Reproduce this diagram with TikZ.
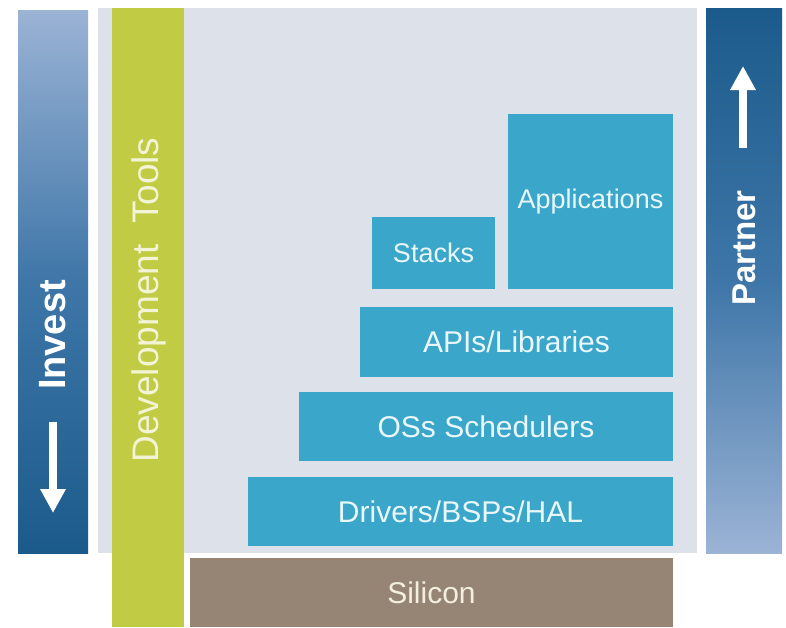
\documentclass[tikz,border=0pt]{standalone}
\usepackage{fontspec}
\setmainfont{Liberation Sans}
\usetikzlibrary{arrows.meta}
\definecolor{panelgray}{HTML}{DDE2EA}
\definecolor{boxblue}{HTML}{3AA6C9}
\definecolor{boxtext}{HTML}{E9F7FB}
\definecolor{devgreen}{HTML}{C1CB44}
\definecolor{devtext}{HTML}{F3F3D6}
\definecolor{silbrown}{HTML}{968574}
\definecolor{siltext}{HTML}{F4EEDF}
\definecolor{barlight}{HTML}{9BB3D5}
\definecolor{barmid}{HTML}{3E76A8}
\definecolor{bardark}{HTML}{1B5B8B}
\tikzset{
  stackbox/.style={fill=boxblue, text=boxtext, inner sep=0pt, font=\fontsize{30}{32}\selectfont},
  smallbox/.style={stackbox, font=\fontsize{27}{29}\selectfont},
  bigarrow/.style={draw=white, line width=8pt, -{Triangle[width=24pt,length=24pt]}},
  bartext/.style={text=white, rotate=90, inner sep=0pt}
}
\begin{document}
\begin{tikzpicture}[x=1pt,y=-1pt]
\useasboundingbox (0,0) rectangle (786,627);
\fill[white] (0,0) rectangle (786,627);
% panel
\node[fill=panelgray, minimum width=599pt, minimum height=545pt, inner sep=0pt] (panel) at (397.5,280.5) {};
% invest bar
\shade[top color=barlight, bottom color=bardark, middle color=barmid] (18,10) rectangle (88,553);
\node[bartext, font=\bfseries\fontsize{38}{40}\selectfont] (invest) at (53,335) {Invest};
\coordinate (ia) at (53,422);
\coordinate (ib) at (53,513);
\draw[bigarrow] (ia) -- (ib);
% partner bar
\shade[top color=bardark, bottom color=barlight, middle color=barmid] (706,8) rectangle (782,553);
\node[bartext, font=\bfseries\fontsize{33}{35}\selectfont] (partner) at (744,248) {Partner};
\coordinate (pa) at (743,148);
\coordinate (pb) at (743,66);
\draw[bigarrow] (pa) -- (pb);
% dev tools
\node[fill=devgreen, minimum width=72pt, minimum height=619pt, inner sep=0pt] (dev) at (148,317.5) {};
\node[text=devtext, rotate=90, inner sep=0pt, font=\fontsize{37}{39}\selectfont] (devt) at (149,300) {Development\ \ Tools};
% stack
\node[fill=silbrown, text=siltext, inner sep=0pt, minimum width=483pt, minimum height=69pt, font=\fontsize{30}{32}\selectfont] (sil) at (431.5,592.5) {Silicon};
\node[stackbox, minimum width=425pt, minimum height=69pt] (drv) at (460.5,511.5) {Drivers/BSPs/HAL};
\node[stackbox, minimum width=374pt, minimum height=69pt] (os) at (486,426.5) {OSs Schedulers};
\node[stackbox, minimum width=313pt, minimum height=70pt] (api) at (516.5,342) {APIs/Libraries};
\node[smallbox, minimum width=123pt, minimum height=72pt] (stk) at (433.5,253) {Stacks};
\node[smallbox, minimum width=165pt, minimum height=175pt] (app) at (590.5,201.5) {Applications};
\end{tikzpicture}
\end{document}
